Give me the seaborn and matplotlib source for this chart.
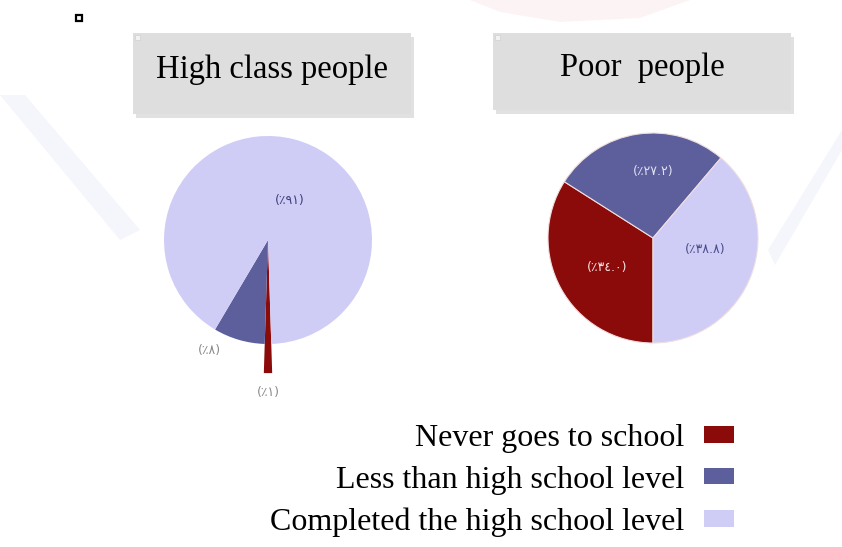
import numpy as np
import pandas as pd
import seaborn as sns
import matplotlib.pyplot as plt
from matplotlib.patches import Rectangle, Patch, Polygon

sns.set_style("white")
plt.rcParams['font.family'] = ['Liberation Serif', 'DejaVu Sans']
plt.rcParams['text.color'] = 'black'

# datos
categorias = ["Never goes to school", "Less than high school level", "Completed the high school level"]
colores = ["#8b0a0a", "#5c5f9c", "#cfcdf6"]
high_vals = [1, 8, 91]
high_txt = ["(\u066a\u0661)", "(\u066a\u0668)", "(\u066a\u0669\u0661)"]
poor_vals = [34.0, 27.2, 38.8]
poor_txt = ["(\u066a\u0663\u0664.\u0660)", "(\u066a\u0662\u0667.\u0662)", "(\u066a\u0663\u0668.\u0668)"]
titulos = ["High class people", "Poor  people"]

W, H = 842, 547
fig = plt.figure(figsize=(W / 100, H / 100), dpi=100)
LIM = 1.6

def fpx(pts):
    # paso de pixeles (arriba-izquierda) a coordenadas de figura
    return [(x / W, (H - y) / H) for x, y in pts]

# marca de agua muy suave del fondo
fig.add_artist(Polygon(fpx([(0, 95), (25, 95), (140, 230), (120, 240)]), closed=True,
                       transform=fig.transFigure, fc="#c9d3f2", ec="none", alpha=0.2))
fig.add_artist(Polygon(fpx([(842, 130), (842, 150), (775, 265), (768, 250)]), closed=True,
                       transform=fig.transFigure, fc="#c9d3f2", ec="none", alpha=0.2))
fig.add_artist(Polygon(fpx([(470, 0), (690, 0), (640, 18), (560, 22), (500, 12)]), closed=True,
                       transform=fig.transFigure, fc="#f3c8c8", ec="none", alpha=0.2))

def px_axes(cx, cy, r):
    half = r * LIM
    ax = fig.add_axes([(cx - half) / W, (H - cy - half) / H, 2 * half / W, 2 * half / H])
    ax.axis("off")
    ax.patch.set_alpha(0)
    return ax

def fix_lims(ax):
    # pie() cambia los limites, los vuelvo a poner
    ax.set_xlim(-LIM, LIM)
    ax.set_ylim(-LIM, LIM)
    ax.set_aspect("equal")

# cajas de titulo con sombra
cajas = [(133, 33, 278, 81), (493, 33, 298, 77)]
for (x0, y0, w, h), t in zip(cajas, titulos):
    fig.add_artist(Rectangle(((x0 + 3) / W, (H - y0 - h - 4) / H), w / W, h / H,
                             transform=fig.transFigure, color="#c4c4c4", alpha=0.5, lw=0))
    fig.add_artist(Rectangle((x0 / W, (H - y0 - h) / H), w / W, h / H,
                             transform=fig.transFigure, color="#dedede", lw=0))
    fig.add_artist(Rectangle(((x0 + 2) / W, (H - y0 - 7) / H), 5 / W, 5 / H,
                             transform=fig.transFigure, fc="#f2f2f2", ec="#d0d0d0", lw=0.5))
    fig.text((x0 + w / 2) / W, (H - y0 - h / 2 + 4) / H, t, ha="center", va="center",
             fontsize=23.5, color="black")

# cuadradito negro arriba a la izquierda
fig.add_artist(Rectangle((76 / W, (H - 21) / H), 6 / W, 6 / H, transform=fig.transFigure,
                         fc="white", ec="black", lw=1.6))

# pastel clase alta
ax1 = px_axes(268, 240, 104)
w1, _ = ax1.pie(high_vals, colors=colores, startangle=270 + high_vals[0] * 1.8,
                counterclock=False, wedgeprops=dict(linewidth=0))
fix_lims(ax1)
w1[0].set_radius(1.28)
pos1 = [(0.0, -1.47), (-0.56, -1.06), (0.21, 0.38)]
col1 = ["#8a8a8a", "#8a8a8a", "#3d3f7a"]
for t, p, c in zip(high_txt, pos1, col1):
    ax1.text(p[0], p[1], t, ha="center", va="center", fontsize=9,
             color=c, family=["DejaVu Sans"])

# pastel pobres
ax2 = px_axes(653, 238, 105)
w2, _ = ax2.pie(poor_vals, colors=colores, startangle=270, counterclock=False,
                wedgeprops=dict(linewidth=0.8, edgecolor="#f0dede"))
fix_lims(ax2)
pos2 = [(-0.44, -0.28), (0.0, 0.63), (0.50, -0.11)]
col2 = ["#f6e4e4", "#e2e2f4", "#4a4c8a"]
for t, p, c in zip(poor_txt, pos2, col2):
    ax2.text(p[0], p[1], t, ha="center", va="center", fontsize=9,
             color=c, family=["DejaVu Sans"])

# leyenda
handles = [Patch(facecolor=c, edgecolor="none") for c in colores]
fig.legend(handles, categorias, loc="upper right", bbox_to_anchor=(747 / W, (H - 411) / H),
           frameon=False, markerfirst=False, fontsize=23, handlelength=0.95,
           handleheight=0.42, handletextpad=0.6, labelspacing=0.4, borderaxespad=0)

fig.savefig("out.png", dpi=100)
